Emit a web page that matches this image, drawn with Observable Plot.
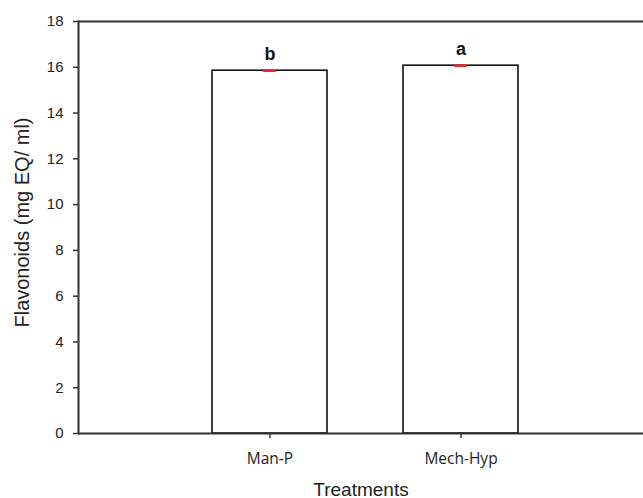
<!DOCTYPE html>
<html><head><meta charset="utf-8">
<script src="https://cdn.jsdelivr.net/npm/d3@7"></script>
<script src="https://cdn.jsdelivr.net/npm/@observablehq/plot@0.6"></script>
<style>
html,body{margin:0;padding:0;background:#fff;overflow:hidden;}
#chart{width:643px;height:498px;overflow:hidden;}
#chart svg{overflow:hidden;display:block;}
</style></head>
<body><div id="chart"></div>
<script>
const categories = ["Man-P", "Mech-Hyp"];
const values = [15.85, 16.07];
const errors = [0.02, 0.02];
const letters = ["b", "a"];
const yTicks = [0, 2, 4, 6, 8, 10, 12, 14, 16, 18];
const yTitle = "Flavonoids (mg EQ/ ml)";
const xTitle = "Treatments";

const data = categories.map((c, i) => ({cat: c, value: values[i], err: errors[i], letter: letters[i]}));

const arial = "'Liberation Sans', Arial, sans-serif";
const chart = Plot.plot({
  width: 643,
  height: 498,
  marginLeft: 78,
  marginRight: 0,
  marginTop: 21,
  marginBottom: 65,
  style: {fontFamily: arial, color: "#222", background: "white"},
  x: {domain: categories, range: [78, 651], paddingInner: 0.4, paddingOuter: 0.7},
  y: {domain: [0, 18]},
  marks: [
    Plot.barY(data, {x: "cat", y: "value", fill: "white", stroke: "#111", strokeWidth: 1.6}),
    Plot.tickY(data, {x: "cat", y: d => d.value + d.err, stroke: "#e8262c", strokeWidth: 1.6, insetLeft: 51, insetRight: 51}),
    Plot.tickY(data, {x: "cat", y: d => d.value - d.err, stroke: "#e8262c", strokeWidth: 1.6, insetLeft: 51, insetRight: 51}),
    Plot.text(data, {x: "cat", y: d => d.value + d.err, text: "letter", dy: -16, fontWeight: "bold", fontSize: 18, fill: "#111", fontFamily: arial}),
    Plot.axisY({ticks: yTicks, tickSize: 5, tickPadding: 10, fontSize: 15, label: null}),
    Plot.axisX({tickSize: 5, tickPadding: 14, fontSize: 15.5, fontFamily: "'Open Sans', Lato, sans-serif", label: null}),
    Plot.text([yTitle], {frameAnchor: "left", textAnchor: "middle", lineAnchor: "middle", rotate: -90, dx: -56, dy: -5, fontSize: 20, fill: "#222", fontFamily: arial}),
    Plot.text([xTitle], {frameAnchor: "bottom", textAnchor: "middle", lineAnchor: "middle", dy: 56, fontSize: 19, fill: "#222", fontFamily: arial}),
    Plot.ruleY([0, 18], {stroke: "#333", strokeWidth: 2}),
    Plot.frame({anchor: "left", stroke: "#333", strokeWidth: 2})
  ]
});
const sel = d3.select(chart);
sel.selectAll('g[aria-label="y-axis tick"], g[aria-label="x-axis tick"]').attr("stroke", "#333").attr("stroke-width", 1.5);
document.getElementById("chart").appendChild(chart);
</script></body></html>
